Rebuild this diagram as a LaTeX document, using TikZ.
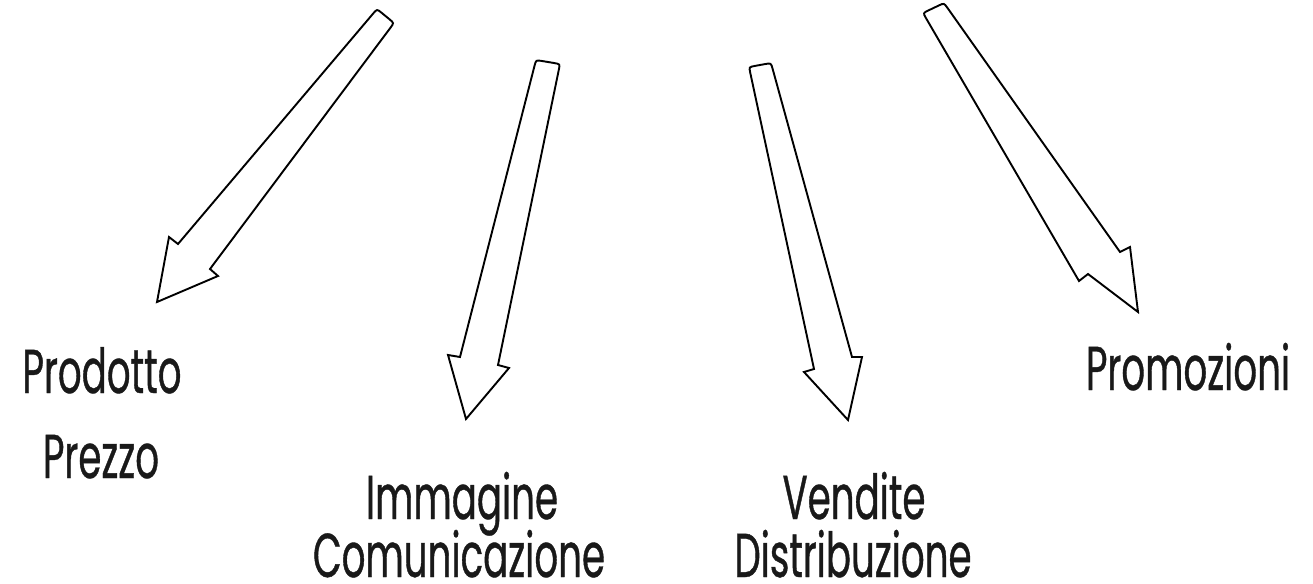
\documentclass[tikz,border=0pt]{standalone}
\usepackage{fontspec}
\newfontfamily\labfont[FakeStretch=0.6,FakeBold=0.6]{Poppins}
\usetikzlibrary{calc}
\tikzset{
  arrowline/.style={draw=black, line width=1.9pt, line join=miter, fill=white},
  lab/.style={anchor=base, inner sep=0pt, font=\labfont\fontsize{62}{66}\selectfont, text=black!90}
}
\newcommand\hollowarr[8]{%
  \coordinate (#1tl) at #2; \coordinate (#1tr) at #3;
  \coordinate (#1rj) at #4; \coordinate (#1rb) at #5;
  \coordinate (#1tip) at #6; \coordinate (#1lb) at #7;
  \coordinate (#1lj) at #8;
  \draw[arrowline]
    ($(#1tl)!6pt!(#1lj)$) .. controls (#1tl) .. ($(#1tl)!6pt!(#1tr)$)
    -- ($(#1tr)!6pt!(#1tl)$) .. controls (#1tr) .. ($(#1tr)!6pt!(#1rj)$)
    -- (#1rj) -- (#1rb) -- (#1tip) -- (#1lb) -- (#1lj) -- cycle;
}
\begin{document}
\begin{tikzpicture}[x=1pt,y=-1pt]
\useasboundingbox (0,0) rectangle (1313,583);
\hollowarr{a}{(377,9)}{(394,23)}{(210,269)}{(218,276)}{(157,302)}{(169,237)}{(178,244)}
\hollowarr{b}{(536,60)}{(560,64)}{(498,365)}{(509,368)}{(466,419)}{(448,355)}{(460,357)}
\hollowarr{c}{(749,67)}{(771,63)}{(852,357)}{(862,357)}{(848,420)}{(804,372)}{(814,369)}
\hollowarr{d}{(944,3)}{(923,13)}{(1079,281)}{(1088,274)}{(1138,312)}{(1130,247)}{(1120,252)}
\node[lab] (prodotto) at (102,393) {Prodotto};
\node[lab] (prezzo) at (101,478) {Prezzo};
\node[lab] (promozioni) at (1188,390) {Promozioni};
\node[lab] (immagine) at (462,519) {Immagine};
\node[lab] (comunicazione) at (459,577) {Comunicazione};
\node[lab] (vendite) at (854,519) {Vendite};
\node[lab] (distribuzione) at (853,577) {Distribuzione};
\end{tikzpicture}
\end{document}
